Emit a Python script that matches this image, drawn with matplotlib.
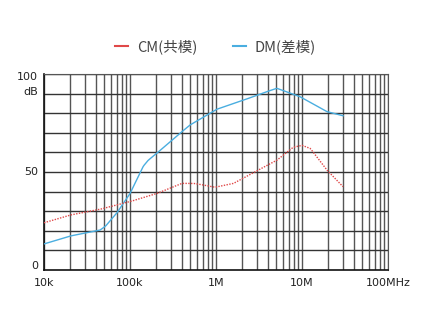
import numpy as np
import matplotlib.pyplot as plt
from matplotlib.ticker import FixedLocator, NullFormatter

# frequency (Hz) and attenuation (dB)
dm_freq = [1e4, 2e4, 4.5e4, 5.2e4, 7e4, 1e5, 1.43e5, 1.63e5, 2.04e5, 3.8e5, 5e5,
           1.02e6, 2.1e6, 3.9e6, 5.1e6, 9.5e6, 1.95e7, 3e7]
dm_db = [13.3, 17.3, 20.4, 22.4, 29, 39, 53, 56, 59.5, 69.7, 74,
         82, 86.7, 91, 92.7, 88.4, 80.8, 78.7]

cm_freq = [1e4, 2e4, 4.5e4, 1e5, 2.04e5, 4e5, 5.45e5, 6.5e5, 9.7e5, 1.6e6,
           2.95e6, 5.1e6, 7.9e6, 1e7, 1.25e7, 1.95e7, 3e7]
cm_db = [24.1, 28, 31, 34.9, 39, 44.2, 44.2, 43.7, 42.2, 44.2,
         50.5, 56, 62.6, 63.6, 62, 51, 42.5]

x_ticks = [1e4, 1e5, 1e6, 1e7, 1e8]
x_labels = ['10k', '100k', '1M', '10M', '100MHz']

fig = plt.figure(figsize=(4.31, 3.10), dpi=100)
ax = fig.add_axes([44/431, 40/310, 344/431, 196/310])

# interpolate in log-frequency so segments stay straight on the log axis
def smooth(f, v):
    lf = np.log10(f)
    xs = np.linspace(lf[0], lf[-1], 300)
    return 10**xs, np.interp(xs, lf, v)

fx, fy = smooth(dm_freq, dm_db)
ax.plot(fx, fy, color='#4aaee0', lw=1.0, label='DM(差模)', zorder=3)
fx, fy = smooth(cm_freq, cm_db)
ax.plot(fx, fy, color='#e04848', lw=1.0, ls=(0, (1, 1)), label='CM(共模)', zorder=3)

ax.set_xscale('log')
ax.set_xlim(1e4, 1e8)
ax.set_ylim(0, 100)

# grid lines
minors = [m * 10**d for d in range(4, 8) for m in range(2, 10)]
for f in minors + x_ticks:
    ax.axvline(f, color='#555555', lw=1.0, zorder=1)
for y in range(10, 101, 10):
    ax.axhline(y, color='#333333', lw=1.0, zorder=1)

for side in ['top', 'right']:
    ax.spines[side].set_color('#555555')
for side in ['left', 'bottom']:
    ax.spines[side].set_color('#111111')
    ax.spines[side].set_linewidth(1.2)

ax.xaxis.set_major_locator(FixedLocator(x_ticks))
ax.xaxis.set_minor_locator(FixedLocator(minors))
ax.xaxis.set_minor_formatter(NullFormatter())
ax.set_xticklabels(x_labels)
ax.tick_params(axis='x', which='both', length=0, pad=6, labelsize=8, labelcolor='#222222')
ax.set_yticks([])

# y labels
for txt, yv in [('100', 98.5), ('dB', 91), ('50', 50), ('0', 2)]:
    ax.text(-0.018, yv, txt, transform=ax.get_yaxis_transform(), ha='right', va='center',
            fontsize=8, color='#222222')

h, l = ax.get_legend_handles_labels()
leg = fig.legend([h[1], h[0]], [l[1], l[0]], loc='center', bbox_to_anchor=(0.5, 1 - 47/310),
                 ncol=2, frameon=False, handlelength=0.9, handletextpad=0.6, columnspacing=2.4,
                 prop={'family': ['Noto Sans CJK SC', 'DejaVu Sans'], 'size': 10.5})
for t in leg.get_texts():
    t.set_color('#444444')
for line in leg.get_lines():
    line.set_linestyle('-')
    line.set_linewidth(1.5)

fig.savefig('out.png', dpi=100)
